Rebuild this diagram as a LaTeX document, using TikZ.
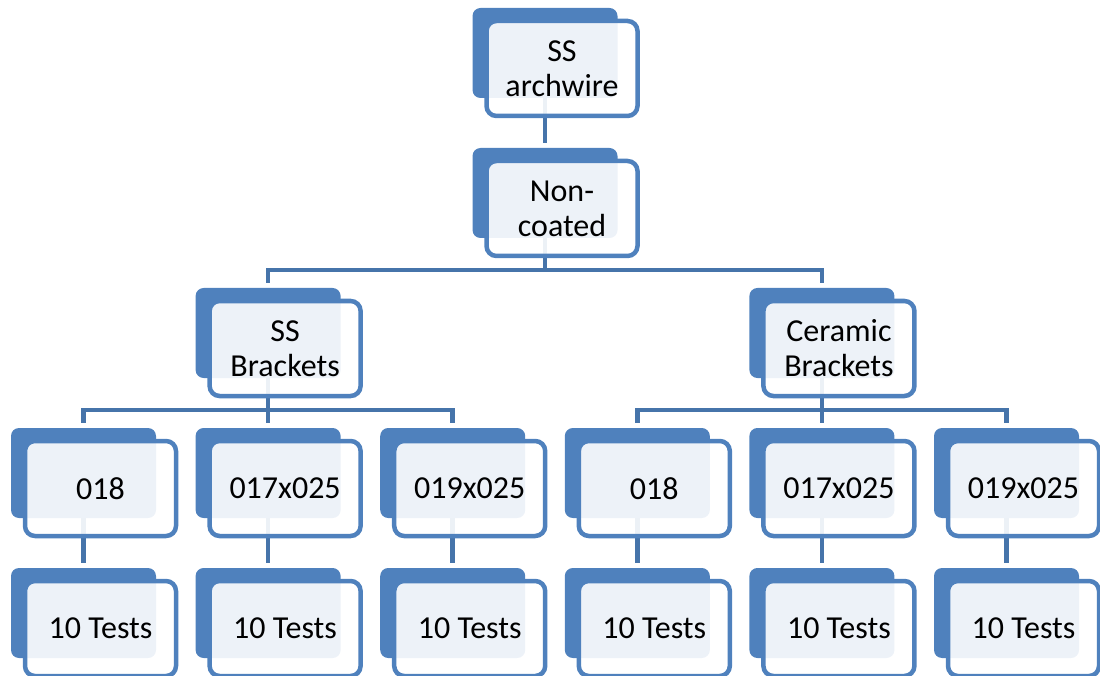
\documentclass[tikz,border=0pt]{standalone}
\usepackage{fontspec}
\setmainfont{Carlito}
\pgfdeclarelayer{bg}
\pgfsetlayers{bg,main}
\definecolor{boxblue}{HTML}{4F81BD}
\definecolor{lineblue}{HTML}{4674AA}

\begin{document}
\begin{tikzpicture}[x=1pt,y=1pt,
    back/.style={rectangle,rounded corners=8pt,fill=boxblue,inner sep=0pt,
        minimum width=145pt,minimum height=90pt},
    front/.style={rectangle,rounded corners=10pt,draw=boxblue,line width=4.5pt,
        fill=white,fill opacity=0.9,text opacity=1,inner sep=0pt,
        minimum width=151pt,minimum height=95pt,align=center,
        font=\fontsize{32}{35}\selectfont},
    conn/.style={draw=lineblue,line width=4.5pt,shorten >=5pt}]
    \useasboundingbox (0,0) rectangle (1100,-676);
    %% back cards
    \node[back] (wire) at (545,-53) {};
    \node[back] (noncoat) at (545,-193) {};
    \node[back] (ssbr) at (268.1,-333) {};
    \node[back] (cerbr) at (821.9,-333) {};
    %%
    \node[back] (ssa) at (83.5,-473) {};
    \node[back] (ssb) at (268.1,-473) {};
    \node[back] (ssc) at (452.7,-473) {};
    \node[back] (cea) at (637.3,-473) {};
    \node[back] (ceb) at (821.9,-473) {};
    \node[back] (cec) at (1006.5,-473) {};
    %%
    \node[back] (ssat) at (83.5,-613) {};
    \node[back] (ssbt) at (268.1,-613) {};
    \node[back] (ssct) at (452.7,-613) {};
    \node[back] (ceat) at (637.3,-613) {};
    \node[back] (cebt) at (821.9,-613) {};
    \node[back] (cect) at (1006.5,-613) {};
    %% front cards
    \node[front] (wiref) at ([shift={(17,-15.5)}]wire.center) {SS\\archwire};
    \node[front] (noncoatf) at ([shift={(17,-15.5)}]noncoat.center) {Non-\\coated};
    \node[front] (ssbrf) at ([shift={(17,-15.5)}]ssbr.center) {SS\\Brackets};
    \node[front] (cerbrf) at ([shift={(17,-15.5)}]cerbr.center) {Ceramic\\Brackets};
    %%
    \node[front] (ssaf) at ([shift={(17,-15.5)}]ssa.center) {018};
    \node[front] (ssbf) at ([shift={(17,-15.5)}]ssb.center) {017x025};
    \node[front] (sscf) at ([shift={(17,-15.5)}]ssc.center) {019x025};
    \node[front] (ceaf) at ([shift={(17,-15.5)}]cea.center) {018};
    \node[front] (cebf) at ([shift={(17,-15.5)}]ceb.center) {017x025};
    \node[front] (cecf) at ([shift={(17,-15.5)}]cec.center) {019x025};
    %%
    \node[front] (ssatf) at ([shift={(17,-15.5)}]ssat.center) {10 Tests};
    \node[front] (ssbtf) at ([shift={(17,-15.5)}]ssbt.center) {10 Tests};
    \node[front] (ssctf) at ([shift={(17,-15.5)}]ssct.center) {10 Tests};
    \node[front] (ceatf) at ([shift={(17,-15.5)}]ceat.center) {10 Tests};
    \node[front] (cebtf) at ([shift={(17,-15.5)}]cebt.center) {10 Tests};
    \node[front] (cectf) at ([shift={(17,-15.5)}]cect.center) {10 Tests};
    %% connectors
    \begin{pgfonlayer}{bg}
    \draw[conn] (wire.south) -- (noncoat.north);
    \draw[conn] (noncoat.south) -- ++(0,-32) -| (ssbr.north);
    \draw[conn] (noncoat.south) -- ++(0,-32) -| (cerbr.north);
    %%
    \draw[conn] (ssbr.south) -- ++(0,-32) -| (ssa.north);
    \draw[conn] (ssbr.south) -- (ssb.north);
    \draw[conn] (ssbr.south) -- ++(0,-32) -| (ssc.north);
    \draw[conn] (cerbr.south) -- ++(0,-32) -| (cea.north);
    \draw[conn] (cerbr.south) -- (ceb.north);
    \draw[conn] (cerbr.south) -- ++(0,-32) -| (cec.north);
    %%
    \draw[conn] (ssa.south) -- (ssat.north);
    \draw[conn] (ssb.south) -- (ssbt.north);
    \draw[conn] (ssc.south) -- (ssct.north);
    \draw[conn] (cea.south) -- (ceat.north);
    \draw[conn] (ceb.south) -- (cebt.north);
    \draw[conn] (cec.south) -- (cect.north);
    \end{pgfonlayer}
\end{tikzpicture}
\end{document}
